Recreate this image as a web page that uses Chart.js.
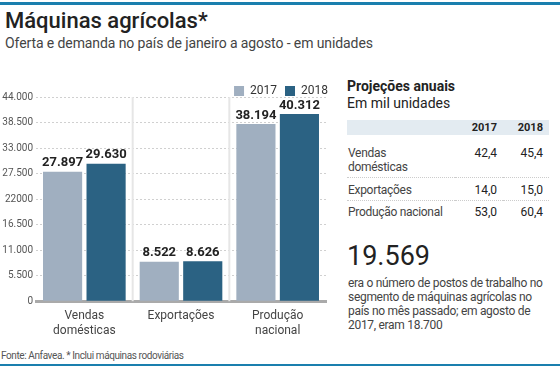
<!DOCTYPE html>
<html lang="pt">
<head>
  <meta charset="UTF-8" />
  <title>Máquinas agrícolas</title>
  <script src="https://cdn.jsdelivr.net/npm/chart.js"></script>
  <style>
    body { margin: 0; width: 560px; height: 368px; background: #fff; position: relative; overflow: hidden;
           font-family: Roboto, sans-serif; color: #222; }
    .linha { position: absolute; left: 0; width: 560px; height: 3px; background: #1a7fae; }
    #titulo { position: absolute; left: 5px; top: 8px; font-size: 22px; line-height: 26px; font-weight: 500; }
    #sub { position: absolute; left: 5px; top: 34px; font-size: 14px; line-height: 18px; color: #444; letter-spacing: -0.1px; }
    #graficoMaquinas { position: absolute; left: 0; top: 70px; }
    #painel { position: absolute; left: 347px; top: 78px; width: 205px; }
    #painel h3 { margin: 0; font-size: 14px; font-weight: bold; line-height: 17px; }
    #painel h4 { margin: 0; font-size: 14px; font-weight: normal; line-height: 17px; }
    table { border-collapse: collapse; width: 202px; margin-top: 8px; font-size: 12px; table-layout: fixed; letter-spacing: -0.3px; }
    th { background: #e3ebf1; font-size: 11px; text-align: right; height: 15px; padding: 0 6px 0 0; letter-spacing: 0; }
    td { color: #444; vertical-align: top; padding: 5px 0 3px 1px; line-height: 14px; border-bottom: 1px dotted #ccc; }
    td.v { text-align: right; color: #222; padding-right: 6px; letter-spacing: 0; }
    tr.primeira td { padding-top: 11px; }
    tr:last-child td { border-bottom: none; padding-top: 4px; }
    #grande { position: absolute; left: 347px; top: 240px; font-size: 27px; line-height: 32px; }
    #texto { position: absolute; left: 348px; top: 276px; width: 212px; font-size: 12px; line-height: 14px; color: #444; white-space: nowrap; letter-spacing: -0.3px; }
    #fonte { position: absolute; left: 1px; top: 350px; font-size: 10px; color: #555; letter-spacing: -0.4px; }
  </style>
</head>
<body>
  <div class="linha" style="top:2px"></div>
  <div id="titulo">Máquinas agrícolas*</div>
  <div id="sub">Oferta e demanda no país de janeiro a agosto - em unidades</div>
  <canvas id="graficoMaquinas" width="332" height="268"></canvas>

  <div id="painel">
    <h3>Projeções anuais</h3>
    <h4>Em mil unidades</h4>
    <table id="tabela"></table>
  </div>
  <div id="grande">19.569</div>
  <div id="texto">era o número de postos de trabalho no<br>segmento de máquinas agrícolas no<br>país no mês passado; em agosto de<br>2017, eram 18.700</div>
  <div id="fonte">Fonte: Anfavea. * Inclui máquinas rodoviárias</div>
  <div class="linha" style="top:364px; height:2px"></div>

  <script>
    const categorias = [["Vendas", "domésticas"], "Exportações", ["Produção", "nacional"]];
    const anos = ["2017", "2018"];
    const valores2017 = [27897, 8522, 38194];
    const valores2018 = [29630, 8626, 40312];
    const rotulosY = ["0", "5.500", "11.000", "16.500", "22000", "27.500", "33.000", "38.500", "44.000"];

    const projLinhas = ["Vendas<br>domésticas", "Exportações", "Produção nacional"];
    const proj2017 = ["42,4", "14,0", "53,0"];
    const proj2018 = ["45,4", "15,0", "60,4"];

    // tabela de projeções
    let html = "<colgroup><col style='width:108px'><col style='width:48px'><col style='width:46px'></colgroup>";
    html += "<tr><th></th><th>" + anos[0] + "</th><th>" + anos[1] + "</th></tr>";
    projLinhas.forEach((l, i) => {
      html += "<tr" + (i === 0 ? " class='primeira'" : "") + "><td>" + l + "</td><td class='v'>" + proj2017[i] +
              "</td><td class='v'>" + proj2018[i] + "</td></tr>";
    });
    document.getElementById("tabela").innerHTML = html;

    const fonte = "Roboto, sans-serif";
    const fmt = v => v.toLocaleString("de-DE");

    const rotulosBarras = {
      id: "rotulosBarras",
      afterDatasetsDraw(chart) {
        const ctx = chart.ctx;
        ctx.save();
        ctx.font = "bold 13px " + fonte;
        ctx.fillStyle = "#222";
        ctx.textAlign = "center";
        ctx.textBaseline = "bottom";
        chart.data.datasets.forEach((ds, i) => {
          chart.getDatasetMeta(i).data.forEach((bar, j) => {
            ctx.fillText(fmt(ds.data[j]), bar.x, bar.y - 2);
          });
        });
        ctx.restore();
      }
    };

    const separadores = {
      id: "separadores",
      beforeDatasetsDraw(chart) {
        const x = chart.scales.x, a = chart.chartArea, ctx = chart.ctx;
        ctx.save();
        ctx.strokeStyle = "#e6e6e6";
        ctx.lineWidth = 2;
        for (let i = 0; i < categorias.length - 1; i++) {
          const px = (x.getPixelForValue(i) + x.getPixelForValue(i + 1)) / 2;
          ctx.beginPath();
          ctx.moveTo(px, a.top);
          ctx.lineTo(px, a.bottom);
          ctx.stroke();
        }
        ctx.restore();
      }
    };

    // legenda encostada no canto direito, como no original
    const legendaDireita = {
      id: "legendaDireita",
      afterLayout(chart) {
        chart.legend.left += 10;
        chart.legend.right += 10;
      }
    };

    new Chart(document.getElementById("graficoMaquinas"), {
      type: "bar",
      data: {
        labels: categorias,
        datasets: [
          { label: anos[0], data: valores2017, backgroundColor: "#a0afc0" },
          { label: anos[1], data: valores2018, backgroundColor: "#2b6283" }
        ]
      },
      options: {
        responsive: false,
        animation: false,
        layout: { padding: { right: 6, top: 7 } },
        categoryPercentage: 0.9,
        barPercentage: 0.9,
        plugins: {
          legend: {
            align: "end",
            maxHeight: 20,
            labels: { boxWidth: 10, boxHeight: 10, padding: 8, color: "#333", font: { family: fonte, size: 12 } }
          },
          tooltip: { enabled: false }
        },
        scales: {
          x: {
            grid: { display: false },
            border: { color: "#aaa", width: 3 },
            ticks: { color: "#444", font: { family: fonte, size: 12 }, padding: 0, maxRotation: 0 }
          },
          y: {
            min: 0, max: 44000,
            afterFit: s => { s.width = 36; },
            grid: { color: "#d0d0d0", drawTicks: false },
            border: { display: false, dash: [2, 2] },
            ticks: {
              stepSize: 5500, padding: 3, color: "#555",
              font: { family: fonte, size: 10 },
              callback: (v, i) => rotulosY[i]
            }
          }
        }
      },
      plugins: [separadores, rotulosBarras, legendaDireita]
    });
  </script>
</body>
</html>
